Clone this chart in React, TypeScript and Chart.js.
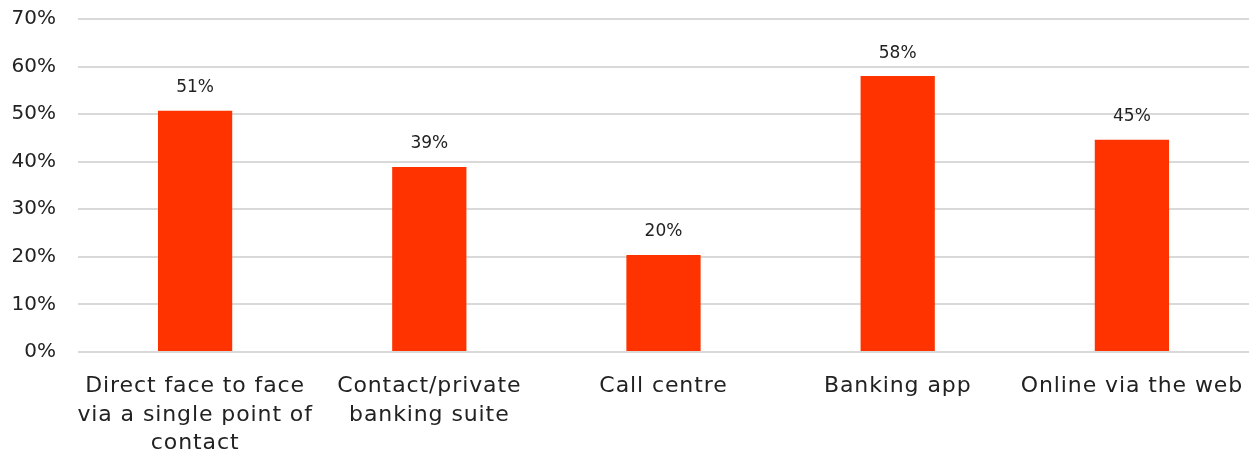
import React, { useEffect, useRef } from "react";
import { Chart, registerables } from "chart.js";

Chart.register(...registerables);

// Channel categories, each split into its wrapped label lines
const categories: string[][] = [
  ["Direct face to face", "via a single point of", "contact"],
  ["Contact/private", "banking suite"],
  ["Call centre"],
  ["Banking app"],
  ["Online via the web"],
];

// Share of respondents per channel (%)
const shares: number[] = [50.7, 38.9, 20.4, 58.0, 44.6];

// Value axis tick range (%)
const yMin = 0;
const yMax = 70;
const yStep = 10;

const FONT = "'DejaVu Sans', sans-serif";
const TEXT = "#222222";
const BAR = "#FF3300";
const GRID = "#D9D9D9";

// Widens the lettering of the category axis labels only
const wideCategoryLabels = {
  id: "wideCategoryLabels",
  afterLayout(chart: Chart) {
    const xScale: any = chart.scales.x;
    if (!xScale || xScale.__wide) return;
    const original = xScale.drawLabels;
    xScale.drawLabels = function (area: any) {
      const ctx: any = this.ctx;
      ctx.letterSpacing = "0.9px";
      original.call(this, area);
      ctx.letterSpacing = "0px";
    };
    xScale.__wide = true;
  },
};

// Writes the rounded percentage above each bar
const valueLabels = {
  id: "valueLabels",
  afterDatasetsDraw(chart: Chart) {
    const { ctx } = chart;
    const meta = chart.getDatasetMeta(0);
    const data = chart.data.datasets[0].data as number[];
    ctx.save();
    ctx.font = `17px ${FONT}`;
    ctx.fillStyle = TEXT;
    ctx.textAlign = "center";
    ctx.textBaseline = "middle";
    meta.data.forEach((el: any, i: number) => {
      ctx.fillText(`${Math.round(data[i])}%`, el.x, el.y - 23);
    });
    ctx.restore();
  },
};

export default function App() {
  const canvasRef = useRef<HTMLCanvasElement | null>(null);

  useEffect(() => {
    document.body.style.margin = "0";
    const canvas = canvasRef.current;
    if (!canvas) return;
    const chart = new Chart(canvas, {
      type: "bar",
      data: {
        labels: categories,
        datasets: [
          {
            data: shares,
            backgroundColor: BAR,
            borderWidth: 0,
            categoryPercentage: 1,
            barPercentage: 0.317,
          },
        ],
      },
      plugins: [wideCategoryLabels, valueLabels],
      options: {
        animation: false,
        responsive: false,
        maintainAspectRatio: false,
        layout: { padding: { top: 19, right: 5, left: 0, bottom: 0 } },
        plugins: {
          legend: { display: false },
          tooltip: { enabled: false },
        },
        scales: {
          x: {
            grid: { display: false, drawTicks: false },
            border: { display: false },
            ticks: {
              color: TEXT,
              font: { family: FONT, size: 22, lineHeight: 1.3 },
              padding: 20,
              maxRotation: 0,
              autoSkip: false,
            },
            afterFit(scale: any) {
              scale.height = 105;
              scale.paddingLeft = 0;
              scale.paddingRight = 0;
            },
          },
          y: {
            min: yMin,
            max: yMax,
            grid: { color: GRID, lineWidth: 2, drawTicks: false },
            border: { display: false },
            ticks: {
              stepSize: yStep,
              color: TEXT,
              font: { family: FONT, size: 20 },
              padding: 22,
              callback: (v: any) => `${v}%`,
            },
            afterFit(scale: any) {
              scale.width = 78;
              scale.paddingTop = 0;
              scale.paddingBottom = 0;
            },
          },
        },
      },
    });
    return () => chart.destroy();
  }, []);

  return (
    <div style={{ width: 1254, height: 457, background: "#fff" }}>
      <canvas ref={canvasRef} width={1254} height={457} />
    </div>
  );
}
